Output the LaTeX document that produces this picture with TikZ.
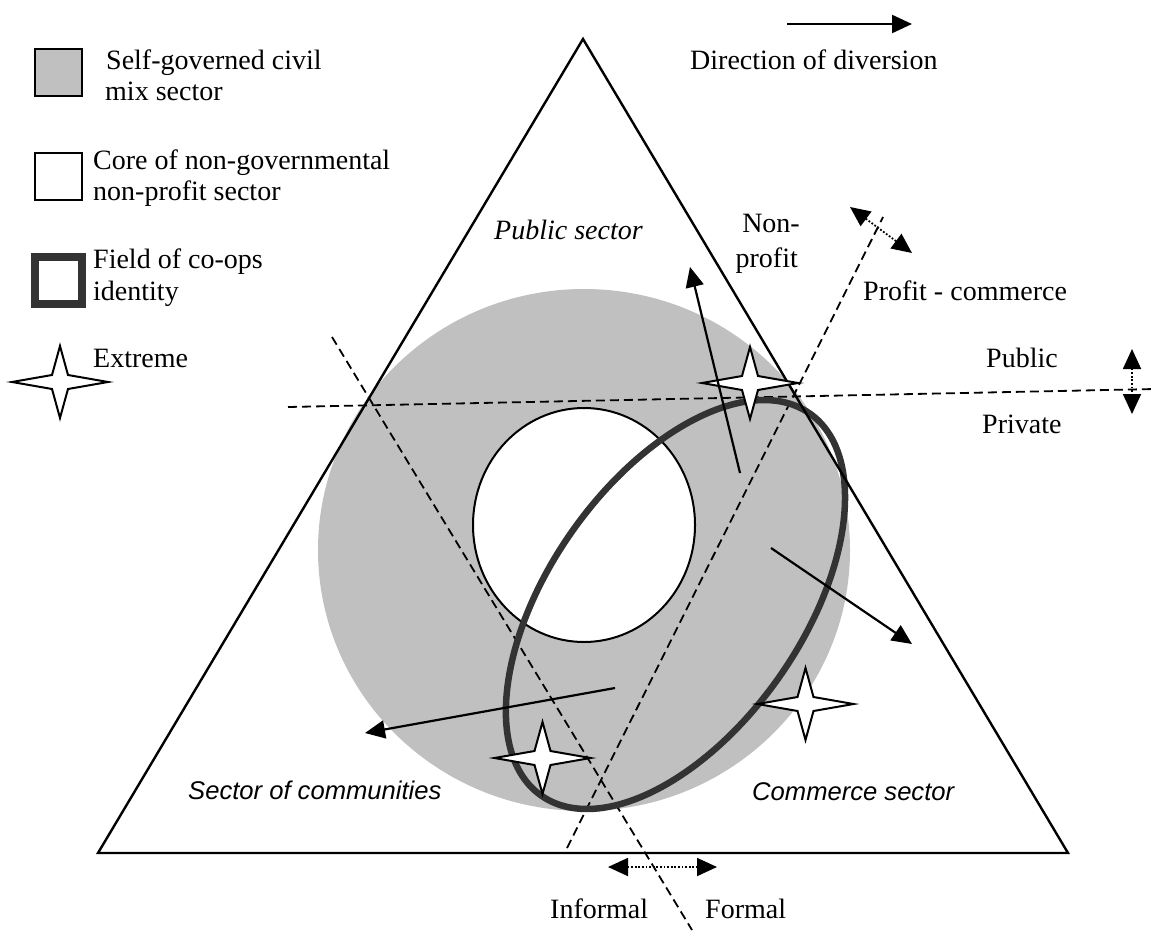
\documentclass[tikz,border=0pt]{standalone}
\usepackage{fontspec}
\setmainfont{Liberation Serif}
\newfontfamily\arialfont{Liberation Sans}
\usetikzlibrary{arrows.meta}
\definecolor{diskgray}{RGB}{192,192,192}
\definecolor{darkline}{RGB}{51,51,51}
\begin{document}
\begin{tikzpicture}[x=1pt,y=-1pt,
  txt/.style={inner sep=0pt, anchor=base west, font=\fontsize{28}{31}\selectfont},
  txtr/.style={inner sep=0pt, anchor=base east, font=\fontsize{28}{31}\selectfont},
  sanslbl/.style={inner sep=0pt, anchor=base west, font=\arialfont\itshape\fontsize{25.6}{30}\selectfont},
  dline/.style={line width=1.8pt, dash pattern=on 9pt off 5pt},
  bigtip/.style={-{Triangle[length=20pt,width=18pt]}},
  arrowline/.style={line width=2.2pt, bigtip},
  dotarrow/.style={line width=1.8pt, dash pattern=on 1.8pt off 1.8pt,
     {Triangle[length=20pt,width=18pt]}-{Triangle[length=20pt,width=18pt]}},
  xstar/.pic={\draw[line width=2pt, fill=white, line join=miter]
     (-48,0) -- (-8,7) -- (0,36) -- (8,7) -- (48,0) -- (8,-7) -- (0,-36) -- (-8,-7) -- cycle;}
]
\useasboundingbox (0,0) rectangle (1155,933);

% ---------- main figure ----------
\coordinate (D) at (584,550);
\coordinate (C) at (584,525);
\coordinate (E) at (675.5,604.5);
\fill[diskgray] (D) ellipse [x radius=266pt, y radius=261pt];
\draw[line width=2pt, fill=white] (C) ellipse [x radius=111pt, y radius=117pt];

% dashed dividing lines
\coordinate (h1) at (288,407);  \coordinate (h2) at (1155,389);
\coordinate (p1) at (567,848);  \coordinate (p2) at (883,217);
\coordinate (f1) at (332,337);  \coordinate (f2) at (692,930);
\draw[dline] (h1) -- (h2);
\draw[dline] (p1) -- (p2);
\draw[dline] (f1) -- (f2);

% co-ops ellipse
\draw[darkline, line width=6.5pt, rotate around={54.9:(E)}] (E) ellipse [x radius=233.5pt, y radius=126.6pt];

% triangle
\coordinate (T1) at (583,39);
\coordinate (T2) at (98,853);
\coordinate (T3) at (1068,853);
\draw[line width=2.4pt, line join=miter] (T1) -- (T2) -- (T3) -- cycle;

% extremes
\coordinate (s1) at (750,383);
\coordinate (s2) at (542.5,758);
\coordinate (s3) at (805.5,704);
\pic at (s1) {xstar};
\pic at (s2) {xstar};
\pic at (s3) {xstar};

% directions of diversion
\coordinate (u1) at (740,473); \coordinate (u2) at (690,267);
\coordinate (r1) at (771,548); \coordinate (r2) at (912,644);
\coordinate (l1) at (615,688); \coordinate (l2) at (365,733);
\draw[arrowline] (u1) -- (u2);
\draw[arrowline] (r1) -- (r2);
\draw[arrowline] (l1) -- (l2);

% dotted double arrows
\coordinate (fi1) at (608,867); \coordinate (fi2) at (717,867);
\coordinate (pp1) at (1132,349); \coordinate (pp2) at (1132,414);
\coordinate (np1) at (850,207); \coordinate (np2) at (912,253);
\draw[dotarrow] (fi1) -- (fi2);
\draw[dotarrow] (pp1) -- (pp2);
\draw[dotarrow] (np1) -- (np2);

% sector labels
\node[txt, font=\fontsize{28}{31}\selectfont\itshape] (pubsec) at (494,240) {Public sector};
\node[sanslbl] (comm) at (188,799) {Sector of communities};
\node[sanslbl] (commsec) at (752,800) {Commerce sector};

% axis labels
\node[txtr] (non1) at (800,233) {Non-};
\node[txtr] (non2) at (798,267) {profit};
\node[txt] (profit) at (863,300) {Profit - commerce};
\node[txt] (public) at (986,367) {Public};
\node[txt] (private) at (982,433) {Private};
\node[txt] (informal) at (550,918) {Informal};
\node[txt] (formal) at (705,918) {Formal};

% ---------- legend ----------
\coordinate (la1) at (787,24); \coordinate (la2) at (912,24);
\draw[arrowline] (la1) -- (la2);
\node[txt] (dirdiv) at (690,70) {Direction of diversion};

\draw[line width=2pt, fill=diskgray] (35,49) rectangle (82,96);
\node[txt] (lg1a) at (106,70) {Self-governed civil};
\node[txt] (lg1b) at (105,100.5) {mix sector};

\draw[line width=2pt, fill=white] (35,153) rectangle (82,200);
\node[txt] (lg2a) at (93,170) {Core of non-governmental};
\node[txt] (lg2b) at (93,201) {non-profit sector};

\draw[line width=8pt, darkline, fill=white] (35,257) rectangle (82,304);
\node[txt] (lg3a) at (93,268.5) {Field of co-ops};
\node[txt] (lg3b) at (93,300) {identity};

\coordinate (ls) at (60,382);
\pic at (ls) {xstar};
\node[txt] (lg4) at (93,367) {Extreme};
\end{tikzpicture}
\end{document}
